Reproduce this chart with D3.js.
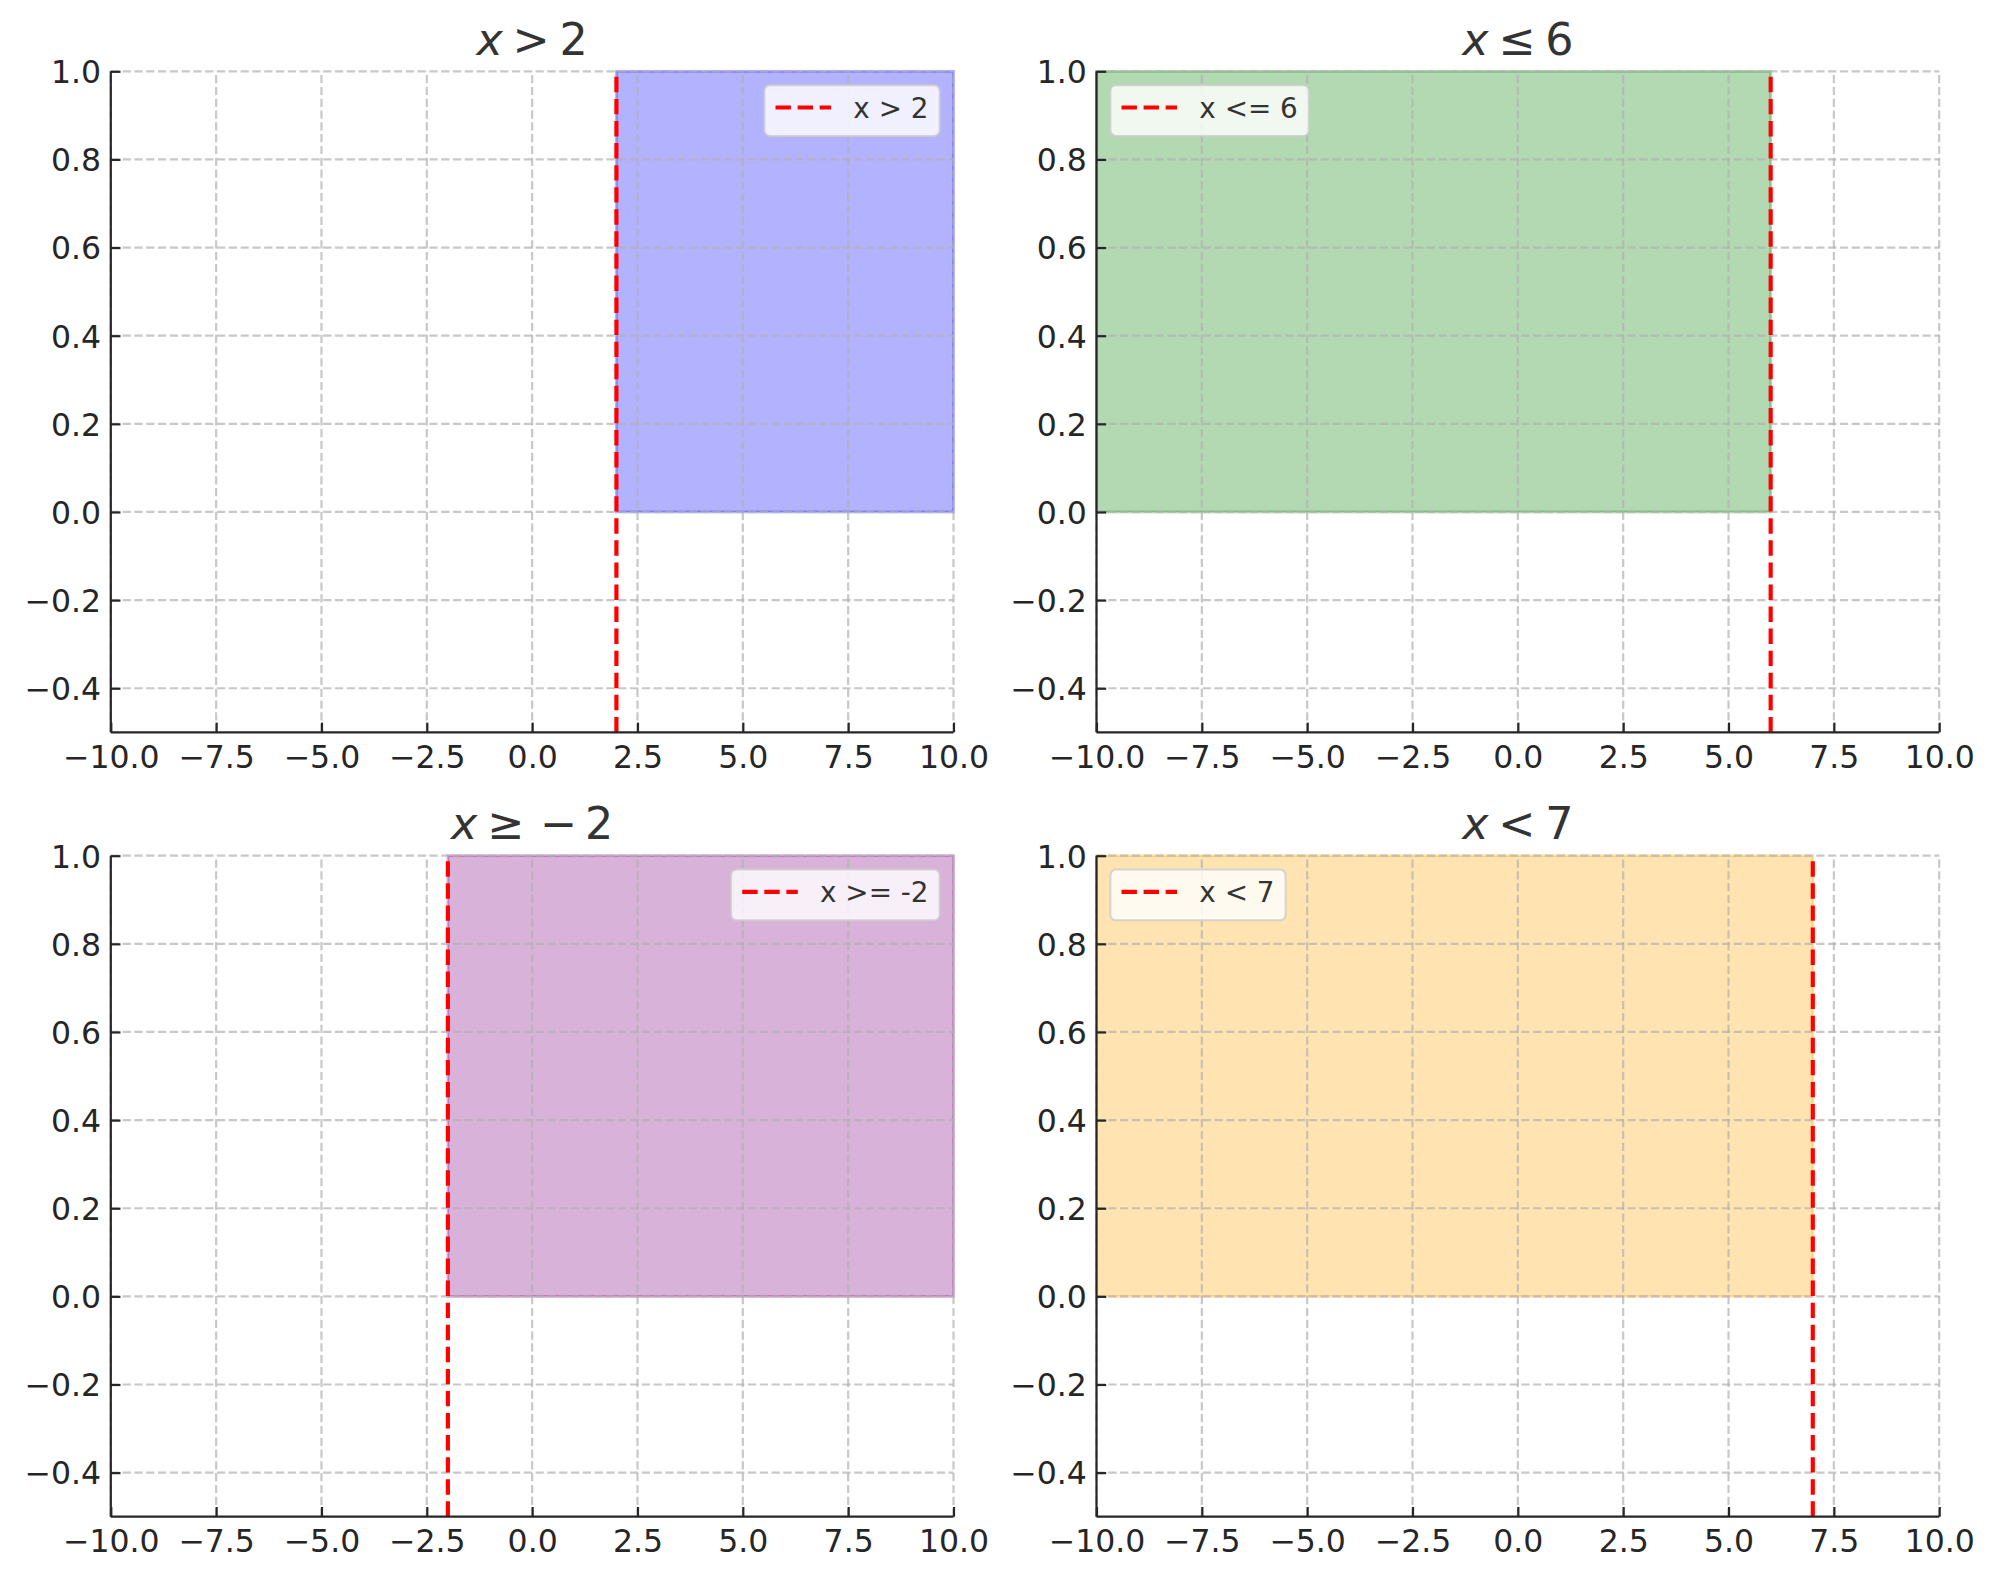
<!DOCTYPE html>
<html>
<head>
<meta charset="utf-8">
<script src="https://cdn.jsdelivr.net/npm/d3@7"></script>
<style>
  html, body { margin: 0; padding: 0; background: #ffffff; }
  svg { display: block; font-family: "DejaVu Sans", sans-serif; }
</style>
</head>
<body>
<svg id="chart" width="1996" height="1580"></svg>
<script>
// ---------------- data ----------------
const panelTitles = [
  [["x", "var"], [">", "rel"], ["2", "num"]],
  [["x", "var"], ["\u2264", "rel"], ["6", "num"]],
  [["x", "var"], ["\u2265", "rel"], ["\u2212", "bin"], ["2", "num"]],
  [["x", "var"], ["<", "rel"], ["7", "num"]]
];
const thresholds = [2, 6, -2, 7];
const fillStart = [2, -10, -2, -10];
const fillEnd = [10, 6, 10, 7];
const fillLow = [0, 0, 0, 0];
const fillHigh = [1, 1, 1, 1];
const fillColors = ["blue", "green", "purple", "orange"];
const legendLabels = ["x > 2", "x <= 6", "x >= -2", "x < 7"];
const legendCorners = ["upper right", "upper left", "upper right", "upper left"];
const xDomain = [-10, 10];
const yDomain = [-0.5, 1.0];
const xTickValues = [-10, -7.5, -5, -2.5, 0, 2.5, 5, 7.5, 10];
const yTickValues = [-0.4, -0.2, 0.0, 0.2, 0.4, 0.6, 0.8, 1.0];

// ---------------- layout ----------------
const colLefts = [110.8, 1096.5];
const rowTops = [71.3, 855.7];
const plotW = 842.7, plotH = 661;
const tickFont = 31.5, titleFont = 44.4, legendFont = 27.8;
const tickLen = 9.7, tickPad = 9.7;
const inkColor = "#262626";

const fmt = v => d3.format(".1f")(v).replace("-", "\u2212");

const svg = d3.select("#chart");
svg.append("rect").attr("width", 1996).attr("height", 1580).attr("fill", "#ffffff");

panelTitles.forEach((title, i) => {
  const col = i % 2, row = Math.floor(i / 2);
  const left = colLefts[col], top = rowTops[row];
  const x = d3.scaleLinear().domain(xDomain).range([0, plotW]);
  const y = d3.scaleLinear().domain(yDomain).range([plotH, 0]);
  const g = svg.append("g").attr("transform", `translate(${left},${top})`);

  // fill_between region
  g.append("rect")
    .attr("x", x(fillStart[i]))
    .attr("y", y(fillHigh[i]))
    .attr("width", x(fillEnd[i]) - x(fillStart[i]))
    .attr("height", y(fillLow[i]) - y(fillHigh[i]))
    .attr("fill", fillColors[i]).attr("fill-opacity", 0.3)
    .attr("stroke", fillColors[i]).attr("stroke-opacity", 0.3)
    .attr("stroke-width", 2.8);

  // grid
  const grid = g.append("g");
  grid.selectAll("line.gx").data(xTickValues).join("line")
    .attr("x1", d => x(d)).attr("x2", d => x(d))
    .attr("y1", plotH).attr("y2", 0)
    .attr("stroke", "#b0b0b0").attr("stroke-opacity", 0.7)
    .attr("stroke-width", 2.2).attr("stroke-dasharray", "8.2,3.6");
  grid.selectAll("line.gy").data(yTickValues).join("line")
    .attr("x1", 0).attr("x2", plotW)
    .attr("y1", d => y(d)).attr("y2", d => y(d))
    .attr("stroke", "#b0b0b0").attr("stroke-opacity", 0.7)
    .attr("stroke-width", 2.2).attr("stroke-dasharray", "8.2,3.6");

  // red dashed vertical line (axvline)
  g.append("line")
    .attr("x1", x(thresholds[i])).attr("x2", x(thresholds[i]))
    .attr("y1", plotH).attr("y2", 0)
    .attr("stroke", "#ff0000").attr("stroke-width", 4.17)
    .attr("stroke-dasharray", "15.4,6.67");

  // axes (d3 axes, ticks inward)
  const xAxis = d3.axisBottom(x).tickValues(xTickValues).tickFormat(fmt)
    .tickSizeInner(-tickLen).tickSizeOuter(0).tickPadding(0);
  const gx = g.append("g").attr("transform", `translate(0,${plotH})`).call(xAxis);
  const yAxis = d3.axisLeft(y).tickValues(yTickValues).tickFormat(fmt)
    .tickSizeInner(-tickLen).tickSizeOuter(0).tickPadding(0);
  const gy = g.append("g").call(yAxis);

  [gx, gy].forEach(ax => {
    ax.select(".domain").attr("stroke", inkColor).attr("stroke-width", 2.2);
    ax.selectAll(".tick line").attr("stroke", inkColor).attr("stroke-width", 2.2);
    ax.selectAll(".tick text").attr("fill", inkColor)
      .attr("font-size", tickFont).attr("font-family", "DejaVu Sans");
  });
  gx.selectAll(".tick text").attr("dy", null).attr("y", 35.6);
  gy.selectAll(".tick text").attr("dy", null).attr("x", -tickPad).attr("y", tickFont * 0.36);
  gx.select(".domain").attr("d", `M0,0H${plotW}`);
  gy.select(".domain").attr("d", `M0,${plotH}V0`);

  // title (math-like)
  const t = g.append("text")
    .attr("x", plotW / 2).attr("y", -16.7)
    .attr("text-anchor", "middle")
    .attr("font-size", titleFont).attr("fill", "#333333")
    .attr("font-family", "DejaVu Sans");
  let prev = null;
  title.forEach(([s, kind]) => {
    let dx = 0;
    if (prev) {
      if (kind === "rel" || prev === "rel") dx += 0.22;
      if (kind === "bin") dx += 0.13;
      if (prev === "bin") dx += 0.18;
    }
    t.append("tspan").text(s)
      .attr("dx", dx ? dx + "em" : null)
      .attr("font-style", kind === "var" ? "italic" : null);
    prev = kind;
  });

  // legend
  const em = legendFont;
  const lg = g.append("g");
  const txt = lg.append("text").text(legendLabels[i])
    .attr("font-size", em).attr("fill", "#333333").attr("font-family", "DejaVu Sans");
  const tw = txt.node().getComputedTextLength();
  const boxW = 0.4 * em + 2 * em + 0.8 * em + tw + 0.4 * em;
  const boxH = 50.7;
  const pad = 0.5 * em;
  const bx = legendCorners[i] === "upper right" ? plotW - pad - boxW : pad;
  const by = pad;
  lg.insert("rect", "text")
    .attr("x", bx).attr("y", by).attr("width", boxW).attr("height", boxH)
    .attr("rx", 0.2 * em).attr("ry", 0.2 * em)
    .attr("fill", "#ffffff").attr("fill-opacity", 0.8)
    .attr("stroke", "#cccccc").attr("stroke-opacity", 0.8).attr("stroke-width", 2);
  lg.insert("line", "text")
    .attr("x1", bx + 0.4 * em).attr("x2", bx + 2.4 * em)
    .attr("y1", by + 22.3).attr("y2", by + 22.3)
    .attr("stroke", "#ff0000").attr("stroke-width", 4.17)
    .attr("stroke-dasharray", "15.4,6.67");
  txt.attr("x", bx + 3.2 * em).attr("y", by + 32.7);
});
</script>
</body>
</html>
